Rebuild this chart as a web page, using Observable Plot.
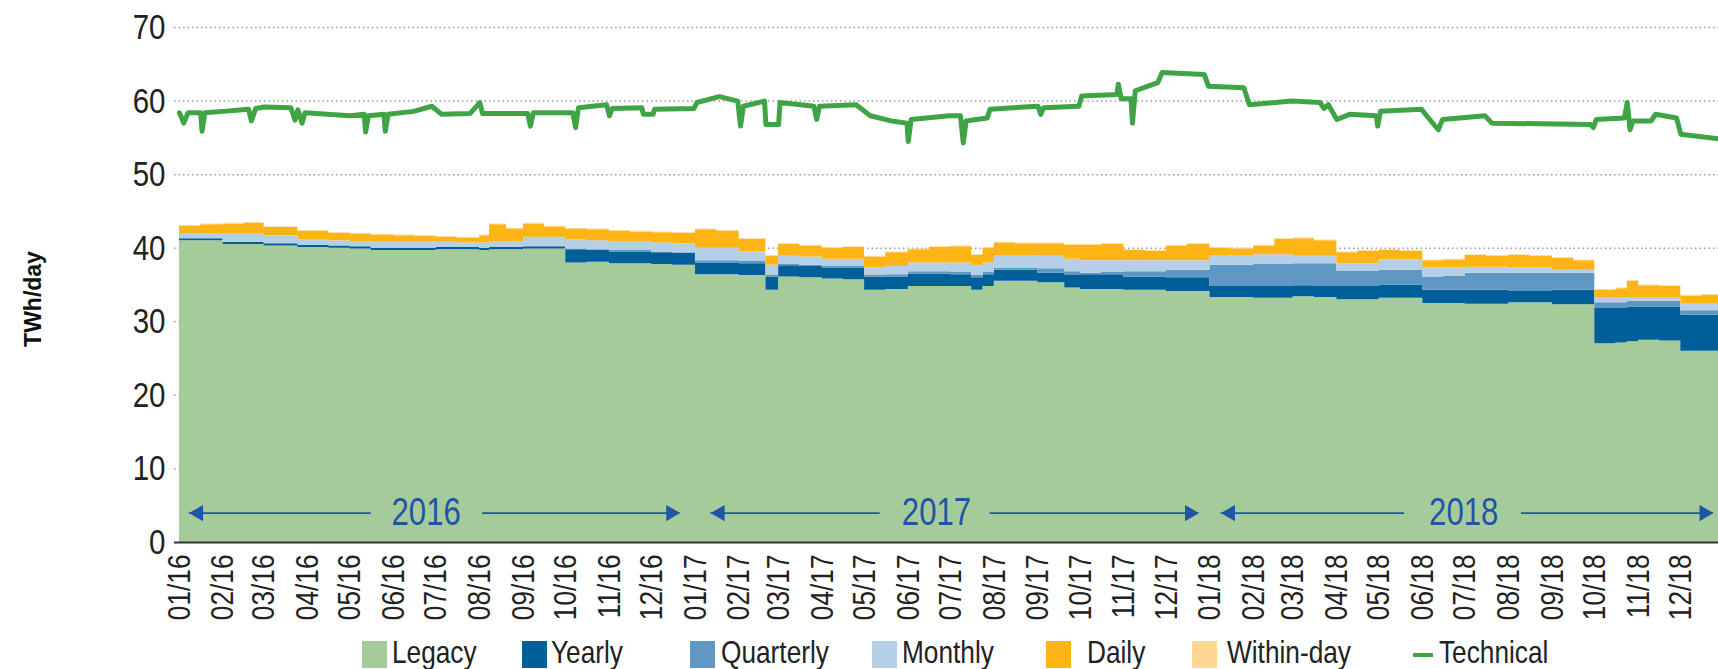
<!DOCTYPE html>
<html><head><meta charset="utf-8">
<script src="https://cdn.jsdelivr.net/npm/d3@7"></script>
<script src="https://cdn.jsdelivr.net/npm/@observablehq/plot@0.6"></script>
<style>
html,body{margin:0;padding:0;background:#fff;overflow:hidden;}
#chart svg{display:block;overflow:hidden;}
.legend{position:relative;width:1718px;height:33px;font-family:"Liberation Sans",Arial,sans-serif;font-size:32px;color:#222;}
.legend .sw{position:absolute;top:5px;width:25px;height:27px;}
.legend .ln{position:absolute;top:17px;width:20px;height:4px;}
.legend .lb{position:absolute;top:0px;line-height:33px;white-space:nowrap;transform:scaleX(0.82);transform-origin:left center;}
</style>
</head><body>
<div id="chart"></div>
<div class="legend" id="legend"></div>
<script>
// ---- data ----
const series = ["Legacy","Yearly","Quarterly","Monthly","Daily","Within-day"];
const yTicks = [0,10,20,30,40,50,60,70];
const yLabel = "TWh/day";

const stackDates = ["2016-01-01","2016-01-16","2016-02-01","2016-02-16","2016-03-01","2016-03-25","2016-04-16","2016-05-01","2016-05-16","2016-06-01","2016-06-16","2016-07-01","2016-07-16","2016-08-01","2016-08-08","2016-08-20","2016-09-01","2016-09-16","2016-10-01","2016-10-16","2016-11-01","2016-11-16","2016-12-01","2016-12-16",
"2017-01-01","2017-01-16","2017-02-01","2017-02-20","2017-03-01","2017-03-16","2017-04-01","2017-04-16","2017-05-01","2017-05-16","2017-06-01","2017-06-16","2017-07-01","2017-07-16","2017-07-24","2017-08-01","2017-08-16","2017-09-01","2017-09-20","2017-10-01","2017-10-16","2017-11-01","2017-11-16","2017-12-01","2017-12-16",
"2018-01-01","2018-01-16","2018-02-01","2018-02-16","2018-03-01","2018-03-16","2018-04-01","2018-04-16","2018-05-01","2018-05-16","2018-06-01","2018-06-16","2018-07-01","2018-07-16","2018-08-01","2018-08-16","2018-09-01","2018-09-16","2018-10-01","2018-10-16","2018-10-24","2018-11-01","2018-11-16","2018-12-01","2018-12-16",
"2019-01-01"];

const legacy = [41.0,41.0,40.5,40.5,40.3,40.1,40.0,39.9,39.7,39.7,39.7,39.8,39.8,39.7,39.8,39.8,39.9,39.9,38.0,38.1,37.9,37.9,37.8,37.7,
36.4,36.4,36.3,34.3,36.1,36.0,35.8,35.7,34.3,34.4,34.8,34.8,34.8,34.3,34.8,35.5,35.5,35.3,34.6,34.4,34.4,34.3,34.3,34.1,34.1,
33.3,33.3,33.2,33.2,33.4,33.3,33.0,33.0,33.2,33.2,32.5,32.5,32.4,32.4,32.6,32.6,32.3,32.3,27.0,27.1,27.3,27.5,27.4,26.0,26.0,
26.0];
const yearly = [0.3,0.3,0.3,0.3,0.3,0.3,0.3,0.3,0.3,0.3,0.3,0.3,0.3,0.3,0.3,0.3,0.3,0.3,1.8,1.6,1.6,1.6,1.6,1.6,
1.6,1.6,1.6,1.8,1.5,1.5,1.5,1.6,1.8,1.7,1.7,1.7,1.6,1.7,1.6,1.5,1.5,1.3,1.7,2.0,2.0,1.8,1.8,1.9,1.9,
1.5,1.5,1.6,1.6,1.5,1.5,1.8,1.8,1.8,1.8,1.8,1.8,1.9,1.9,1.5,1.5,2.0,2.0,4.8,4.7,4.7,4.5,4.6,4.9,4.9,
4.9];
const quarterly = [0,0,0,0,0,0,0,0,0,0,0,0,0,0,0,0,0,0,0.1,0.1,0.2,0.2,0.1,0.1,
0.3,0.3,0.3,0.2,0.2,0.2,0.2,0.2,0.2,0.3,0.3,0.3,0.3,0.3,0.3,0.3,0.3,0.6,0.5,0.2,0.3,0.7,0.7,1.0,1.0,
2.9,2.9,3.0,3.0,3.0,3.1,2.1,2.1,2.0,2.0,1.8,1.9,2.3,2.3,2.5,2.5,2.3,2.3,0.8,0.8,0.8,0.8,0.8,0.6,0.6,
0.6];
const monthly = [0.6,0.6,1.2,1.2,1.1,0.8,0.7,0.7,0.8,0.8,0.8,0.7,0.6,0.7,0.8,0.8,1.3,1.3,1.2,1.2,1.2,1.2,1.2,1.2,
1.7,1.7,1.3,1.4,1.1,1.1,1.0,1.0,1.0,1.1,1.2,1.2,1.3,1.3,1.3,1.7,1.7,1.7,1.7,1.7,1.6,1.5,1.5,1.3,1.3,
1.3,1.3,1.3,1.3,1.0,1.0,1.0,1.0,1.4,1.4,1.2,1.1,0.8,0.8,0.7,0.7,0.4,0.4,0.6,0.6,0.5,0.5,0.5,1.0,1.0,
1.0];
const daily = [1.1,1.3,1.3,1.4,1.1,1.1,1.0,1.0,1.0,0.9,0.8,0.7,0.7,1.0,2.3,1.7,1.8,1.4,1.5,1.5,1.4,1.3,1.4,1.4,
2.5,2.3,1.7,1.2,1.6,1.5,1.5,1.6,1.5,1.9,1.8,2.1,2.2,1.4,2.0,1.7,1.6,1.7,1.9,2.1,2.2,1.4,1.3,2.0,2.2,
1.0,0.9,1.2,2.1,2.4,2.1,1.5,1.7,1.3,1.2,1.0,1.1,1.6,1.5,1.7,1.6,1.6,1.3,1.1,1.3,2.2,1.6,1.5,1.0,1.1,
1.1];
const withinDay = [0.1,0.1,0.1,0.1,0.1,0.1,0.1,0.1,0.1,0.1,0.1,0.1,0.1,0.1,0.1,0.1,0.1,0.1,0.1,0.1,0.1,0.1,0.1,0.1,
0.1,0.1,0.1,0.1,0.1,0.1,0.1,0.1,0.1,0.1,0.1,0.1,0.1,0.1,0.1,0.1,0.1,0.1,0.1,0.1,0.1,0.1,0.1,0.1,0.1,
0.1,0.1,0.1,0.1,0.1,0.1,0.1,0.1,0.1,0.1,0.1,0.1,0.1,0.1,0.1,0.1,0.1,0.1,0.1,0.1,0.1,0.1,0.1,0.1,0.1,
0.1];

const techDates = ["2016-01-01","2016-01-04","2016-01-07","2016-01-16","2016-01-17","2016-01-19","2016-02-01","2016-02-19","2016-02-21","2016-02-24","2016-03-01","2016-03-20","2016-03-23","2016-03-25","2016-03-28","2016-03-30","2016-04-15","2016-05-01","2016-05-11","2016-05-12","2016-05-14","2016-05-25","2016-05-26","2016-05-28","2016-06-15","2016-06-28","2016-07-05","2016-07-25","2016-08-01","2016-08-03","2016-09-04","2016-09-06","2016-09-08","2016-10-06","2016-10-08","2016-10-10","2016-10-30","2016-11-01","2016-11-03","2016-11-24","2016-11-25","2016-12-02","2016-12-03","2016-12-31",
"2017-01-02","2017-01-18","2017-01-31","2017-02-02","2017-02-04","2017-02-19","2017-02-20","2017-03-01","2017-03-02","2017-03-26","2017-03-28","2017-03-30","2017-04-25","2017-05-05","2017-05-20","2017-05-31","2017-06-01","2017-06-03","2017-06-30","2017-07-08","2017-07-10","2017-07-12","2017-07-27","2017-07-29","2017-09-01","2017-09-03","2017-09-05","2017-09-30","2017-10-02","2017-10-27","2017-10-28","2017-10-30","2017-11-06","2017-11-07","2017-11-09","2017-11-25","2017-11-28","2017-12-28","2017-12-31",
"2018-01-25","2018-01-29","2018-02-28","2018-03-20","2018-03-23","2018-03-26","2018-04-01","2018-04-10","2018-04-29","2018-04-30","2018-05-02","2018-05-31","2018-06-05","2018-06-12","2018-06-15","2018-07-15","2018-07-20","2018-09-28","2018-09-30","2018-10-02","2018-10-22","2018-10-24","2018-10-26","2018-10-28","2018-11-10","2018-11-13","2018-11-28","2018-12-01","2018-12-31"];
const techValues = [58.4,57.0,58.4,58.4,55.9,58.4,58.6,58.9,57.3,59.0,59.2,59.1,57.4,58.8,57.0,58.4,58.2,58.0,58.2,55.8,58.0,58.2,55.9,58.2,58.6,59.3,58.2,58.3,59.8,58.3,58.3,56.6,58.4,58.4,56.4,59.1,59.5,58.0,59.0,59.1,58.2,58.2,58.9,59.0,
59.8,60.6,60.0,56.6,59.3,60.0,56.8,56.8,59.8,59.3,57.5,59.3,59.5,58.0,57.3,57.0,54.5,57.5,58.0,58.0,54.3,57.3,57.7,58.9,59.3,58.2,59.1,59.3,60.7,60.9,62.3,60.3,60.3,57.0,61.4,62.5,63.9,63.6,62.0,
61.8,59.5,60.0,59.8,59.0,59.5,57.5,58.2,58.0,56.6,58.6,58.9,57.7,56.1,57.5,58.0,57.0,56.8,56.4,57.5,57.7,59.8,56.1,57.3,57.3,58.2,57.7,55.5,54.8];

const yearArrows = [
  {year:"2016", y:4, start:"2016-01-08", leftEnd:"2016-05-16", mid:"2016-06-24", rightStart:"2016-08-03", end:"2016-12-21"},
  {year:"2017", y:4, start:"2017-01-12", leftEnd:"2017-05-12", mid:"2017-06-21", rightStart:"2017-07-29", end:"2017-12-24"},
  {year:"2018", y:4, start:"2018-01-09", leftEnd:"2018-05-19", mid:"2018-06-30", rightStart:"2018-08-10", end:"2018-12-24"}
];

// ---- styles ----
const colors = ["#a6cb9b","#005f99","#5e97c3","#b5cfe6","#fdb515","#fdd68f"];
const techColor = "#3fa445";
const annColor = "#1f55a5";
const font = "'Liberation Sans',Arial,sans-serif";
const narrow = 0.82;

// ---- build tables ----
const seriesValues = [legacy, yearly, quarterly, monthly, daily, withinDay];
const stackRows = [];
series.forEach((s, i) => stackDates.forEach((d, j) => stackRows.push({date: new Date(d), series: s, value: seriesValues[i][j]})));
const techRows = techDates.map((d, i) => ({date: new Date(d), value: techValues[i]}));
const arrows = yearArrows.map(a => ({...a, start: new Date(a.start), leftEnd: new Date(a.leftEnd), mid: new Date(a.mid), rightStart: new Date(a.rightStart), end: new Date(a.end)}));
const segs = arrows.flatMap(a => [{x1: a.start, x2: a.leftEnd, y: a.y}, {x1: a.rightStart, x2: a.end, y: a.y}]);
const headsL = arrows.map(a => ({x: a.start, y: a.y}));
const headsR = arrows.map(a => ({x: a.end, y: a.y}));
const monthTicks = d3.utcMonth.range(new Date("2016-01-01"), new Date("2019-01-01"));

const chart = Plot.plot({
  width: 1718, height: 636,
  marginLeft: 174, marginRight: 0, marginTop: 27, marginBottom: 94,
  style: {fontFamily: font, fontSize: "31px", color: "#222", background: "#fff"},
  x: {type: "utc", domain: [new Date("2016-01-01"), new Date("2019-01-01")], range: [179, 1724]},
  y: {domain: [0, 70]},
  color: {domain: series, range: colors},
  marks: [
    Plot.ruleY(yTicks.filter(v => v > 0), {stroke: "#9a9a9a", strokeWidth: 1.5, strokeDasharray: "1.5,3"}),
    Plot.areaY(stackRows, {x: "date", y: "value", fill: "series", curve: "step-after", clip: true}),
    Plot.ruleY([0], {stroke: "#333", strokeWidth: 2}),
    Plot.line(techRows, {x: "date", y: "value", stroke: techColor, strokeWidth: 5, strokeLinejoin: "round", clip: true}),
    Plot.ruleY(segs, {x1: "x1", x2: "x2", y: "y", stroke: annColor, strokeWidth: 1.8}),
    Plot.dot(headsL, {x: "x", y: "y", symbol: "triangle", r: 6, rotate: -90, dx: 9, fill: annColor, stroke: "none"}),
    Plot.dot(headsR, {x: "x", y: "y", symbol: "triangle", r: 6, rotate: 90, dx: -9, fill: annColor, stroke: "none"}),
    Plot.text(arrows, {x: "mid", y: "y", text: "year", fontSize: 38, fill: annColor}),
    Plot.axisY({ticks: yTicks, tickSize: 0, tickPadding: 9, fontSize: 36, label: null}),
    Plot.axisX({ticks: monthTicks, tickFormat: d3.utcFormat("%m/%y"), tickRotate: -90, tickSize: 0, tickPadding: 12, fontSize: 32, label: null}),
    Plot.text([yLabel], {frameAnchor: "left", dx: -141, dy: 14, rotate: -90, textAnchor: "middle", fontWeight: "bold", fontSize: 23, fill: "#111"})
  ]
});
document.getElementById("chart").appendChild(chart);

// narrow (Arial Narrow-like) rendering of the chart's texts: horizontal squeeze in each text's own frame
chart.querySelectorAll("text").forEach(t => {
  if (t.textContent === yLabel) return;
  for (const a of ["x", "dx"]) {
    const v = t.getAttribute(a);
    if (v != null) {
      const m = /^(-?[\d.]+)(.*)$/.exec(v.trim());
      if (m) t.setAttribute(a, (parseFloat(m[1]) / narrow) + m[2]);
    }
  }
  t.setAttribute("transform", `${t.getAttribute("transform") || ""} scale(${narrow},1)`);
});

// ---- legend ----
const legendItems = [
  {name: "Legacy", color: colors[0], kind: "sw"},
  {name: "Yearly", color: colors[1], kind: "sw"},
  {name: "Quarterly", color: colors[2], kind: "sw"},
  {name: "Monthly", color: colors[3], kind: "sw"},
  {name: "Daily", color: colors[4], kind: "sw"},
  {name: "Within-day", color: colors[5], kind: "sw"},
  {name: "Technical", color: techColor, kind: "ln"}
];
const legendSwatchX = [362, 522, 690, 872, 1046, 1192, 1413];
const legendTextX = [392, 551, 721, 902, 1087, 1227, 1439];
const lg = document.getElementById("legend");
legendItems.forEach((it, i) => {
  const sw = document.createElement("div");
  sw.className = it.kind;
  sw.style.left = legendSwatchX[i] + "px";
  sw.style.background = it.color;
  lg.appendChild(sw);
  const lb = document.createElement("div");
  lb.className = "lb";
  lb.style.left = legendTextX[i] + "px";
  lb.textContent = it.name;
  lg.appendChild(lb);
});
</script>
</body></html>
